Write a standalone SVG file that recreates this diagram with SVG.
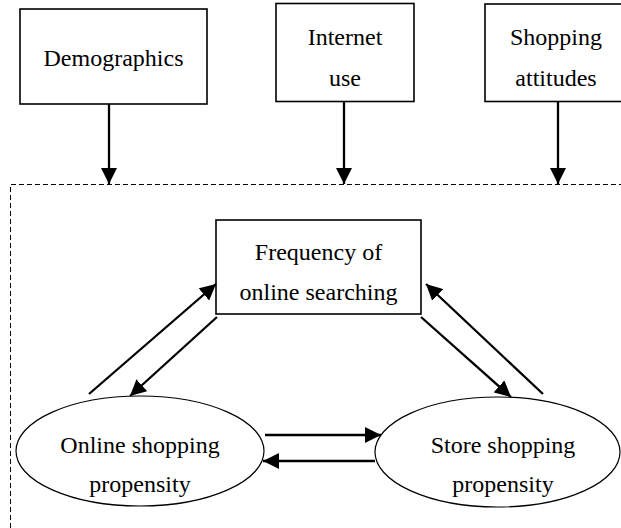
<svg xmlns="http://www.w3.org/2000/svg" width="621" height="528" viewBox="0 0 621 528">
<style>
  .box{fill:#fff;stroke:#000;stroke-width:1.6}
  .ell{fill:#fff;stroke:#000;stroke-width:1.2}
  .t{font-family:"Liberation Serif","Times New Roman",serif;font-size:24px;fill:#000;text-anchor:middle}
  .arr{stroke:#000;stroke-width:2.3;fill:none;marker-end:url(#ah)}
  .dash{stroke:#000;stroke-width:1;fill:none;stroke-dasharray:5,3}
</style>
<defs>
  <marker id="ah" markerUnits="userSpaceOnUse" markerWidth="17" markerHeight="16" refX="16" refY="8" orient="auto">
    <path d="M0,0 L16,8 L0,16 Z" fill="#000"/>
  </marker>
</defs>
<rect width="621" height="528" fill="#fff"/>
<g id="frame">
  <path class="dash" d="M10.5,528 L10.5,184.5 L621,184.5"/>
</g>
<g id="demographics">
  <rect class="box" x="20" y="9" width="187" height="95"/>
  <text class="t" x="113.5" y="66">Demographics</text>
</g>
<g id="internet">
  <rect class="box" x="276" y="3.5" width="138" height="98"/>
  <text class="t" x="345" y="45">Internet</text>
  <text class="t" x="345" y="86">use</text>
</g>
<g id="attitudes">
  <rect class="box" x="485" y="4" width="142" height="97.5"/>
  <text class="t" x="556" y="45">Shopping</text>
  <text class="t" x="556" y="86">attitudes</text>
</g>
<g id="frequency">
  <rect class="box" x="216" y="220" width="205" height="94"/>
  <text class="t" x="318.5" y="260">Frequency of</text>
  <text class="t" x="318.5" y="300">online searching</text>
</g>
<g id="online">
  <ellipse class="ell" cx="140" cy="451" rx="124" ry="55"/>
  <text class="t" x="140" y="453">Online shopping</text>
  <text class="t" x="140" y="492">propensity</text>
</g>
<g id="store">
  <ellipse class="ell" cx="497.5" cy="452" rx="122.5" ry="55"/>
  <text class="t" x="503" y="453">Store shopping</text>
  <text class="t" x="503" y="492">propensity</text>
</g>
<g id="connectors">
  <line class="arr" x1="109" y1="104" x2="109" y2="184"/>
  <line class="arr" x1="344" y1="102" x2="344" y2="184"/>
  <line class="arr" x1="558" y1="102" x2="558" y2="184"/>
  <line class="arr" x1="89" y1="394" x2="216" y2="284"/>
  <line class="arr" x1="217" y1="317" x2="130" y2="396"/>
  <line class="arr" x1="421" y1="317" x2="511" y2="397"/>
  <line class="arr" x1="543" y1="394" x2="426" y2="284"/>
  <line class="arr" x1="265" y1="435" x2="381" y2="435"/>
  <line class="arr" x1="375" y1="461" x2="263" y2="461"/>
</g>
</svg>
